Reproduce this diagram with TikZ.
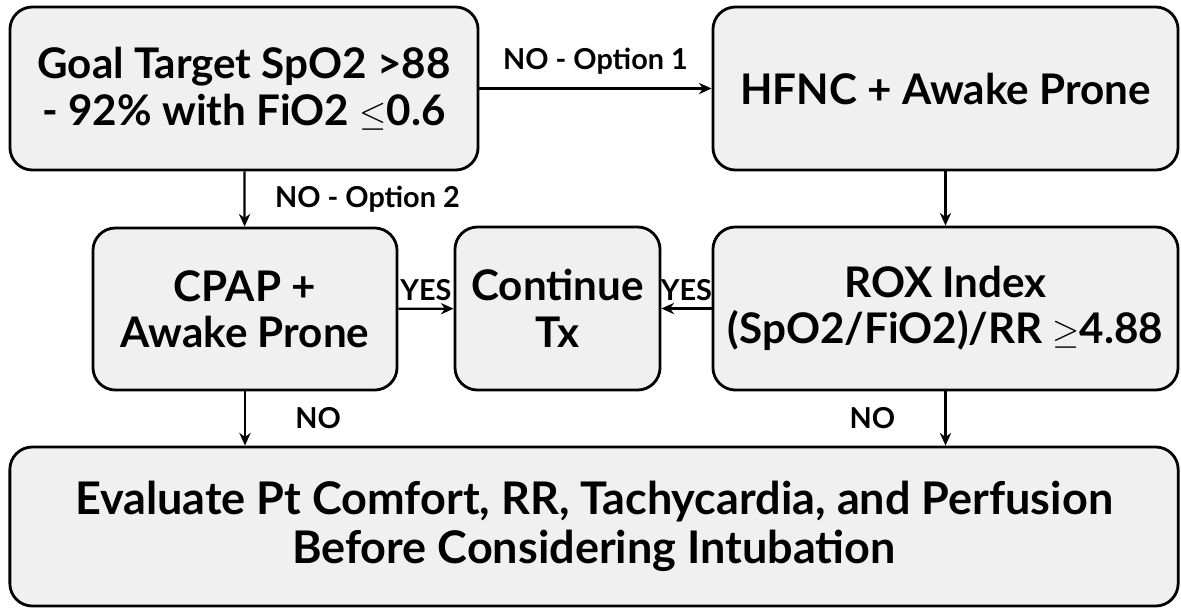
\documentclass[tikz,border=0pt]{standalone}
\usepackage{fontspec}
\setmainfont{Lato}
\usepackage{amsmath}
\usepackage{amssymb}
\usepackage{tikz}
\usetikzlibrary{arrows.meta, positioning, calc}
\definecolor{boxgray}{HTML}{F0F0F0}
\tikzset{
  block/.style={
    rectangle,
    draw=black,
    line width=2pt,
    fill=boxgray,
    rounded corners=16pt,
    align=center,
    font=\fontsize{30}{33}\selectfont\bfseries
  },
  arrow/.style={
    line width=1.6pt,
    -{Stealth[length=9pt,width=8pt]}
  }
}

\begin{document}
\begin{tikzpicture}[
  x=0.025cm, y=-0.025cm,
  lbl/.style={font=\fontsize{20.5}{22}\selectfont\bfseries, inner sep=1pt}
]
  \useasboundingbox (0,0) rectangle (1181,608);

  % Top row
  \node[block, minimum width=11.7cm, minimum height=4.075cm] (goal) at (244,88.5) {Goal Target SpO2 >88\\- 92\% with FiO2 $\leq$0.6};
  \node[block, minimum width=11.625cm, minimum height=4.075cm] (hfnc) at (945.5,88.5) {HFNC + Awake Prone};

  % Middle row
  \node[block, minimum width=7.6cm, minimum height=4.05cm] (cpap) at (245,309) {CPAP +\\Awake Prone};
  \node[block, minimum width=5.125cm, minimum height=4.075cm] (cont) at (557.5,308.5) {Continue\\Tx};
  \node[block, minimum width=11.625cm, minimum height=4.075cm] (rox) at (945.5,308.5) {ROX Index\\(SpO2/FiO2)/RR $\geq$4.88};

  % Bottom
  \node[block, minimum width=29.2cm, minimum height=3.975cm, font=\fontsize{32}{35}\selectfont\bfseries] (eval) at (594,526.5) {Evaluate Pt Comfort, RR, Tachycardia, and Perfusion\\Before Considering Intubation};

  % Arrows
  \draw[arrow] (goal) -- (hfnc) node[lbl, midway, above=8pt] {NO - Option 1};
  \draw[arrow] (goal) -- (cpap) node[lbl, midway, right=20pt] {NO - Option 2};
  \draw[arrow] (hfnc) -- (rox);
  \draw[arrow] (cpap) -- (cont) node[lbl, midway, above=4pt] {YES};
  \draw[arrow] (rox) -- (cont) node[lbl, midway, above=4pt] {YES};
  \draw[arrow] (cpap.south) -- (cpap.south |- eval.north) node[lbl, midway, right=34pt] {NO};
  \draw[arrow] (rox.south) -- (rox.south |- eval.north) node[lbl, midway, left=34pt] {NO};
\end{tikzpicture}
\end{document}
